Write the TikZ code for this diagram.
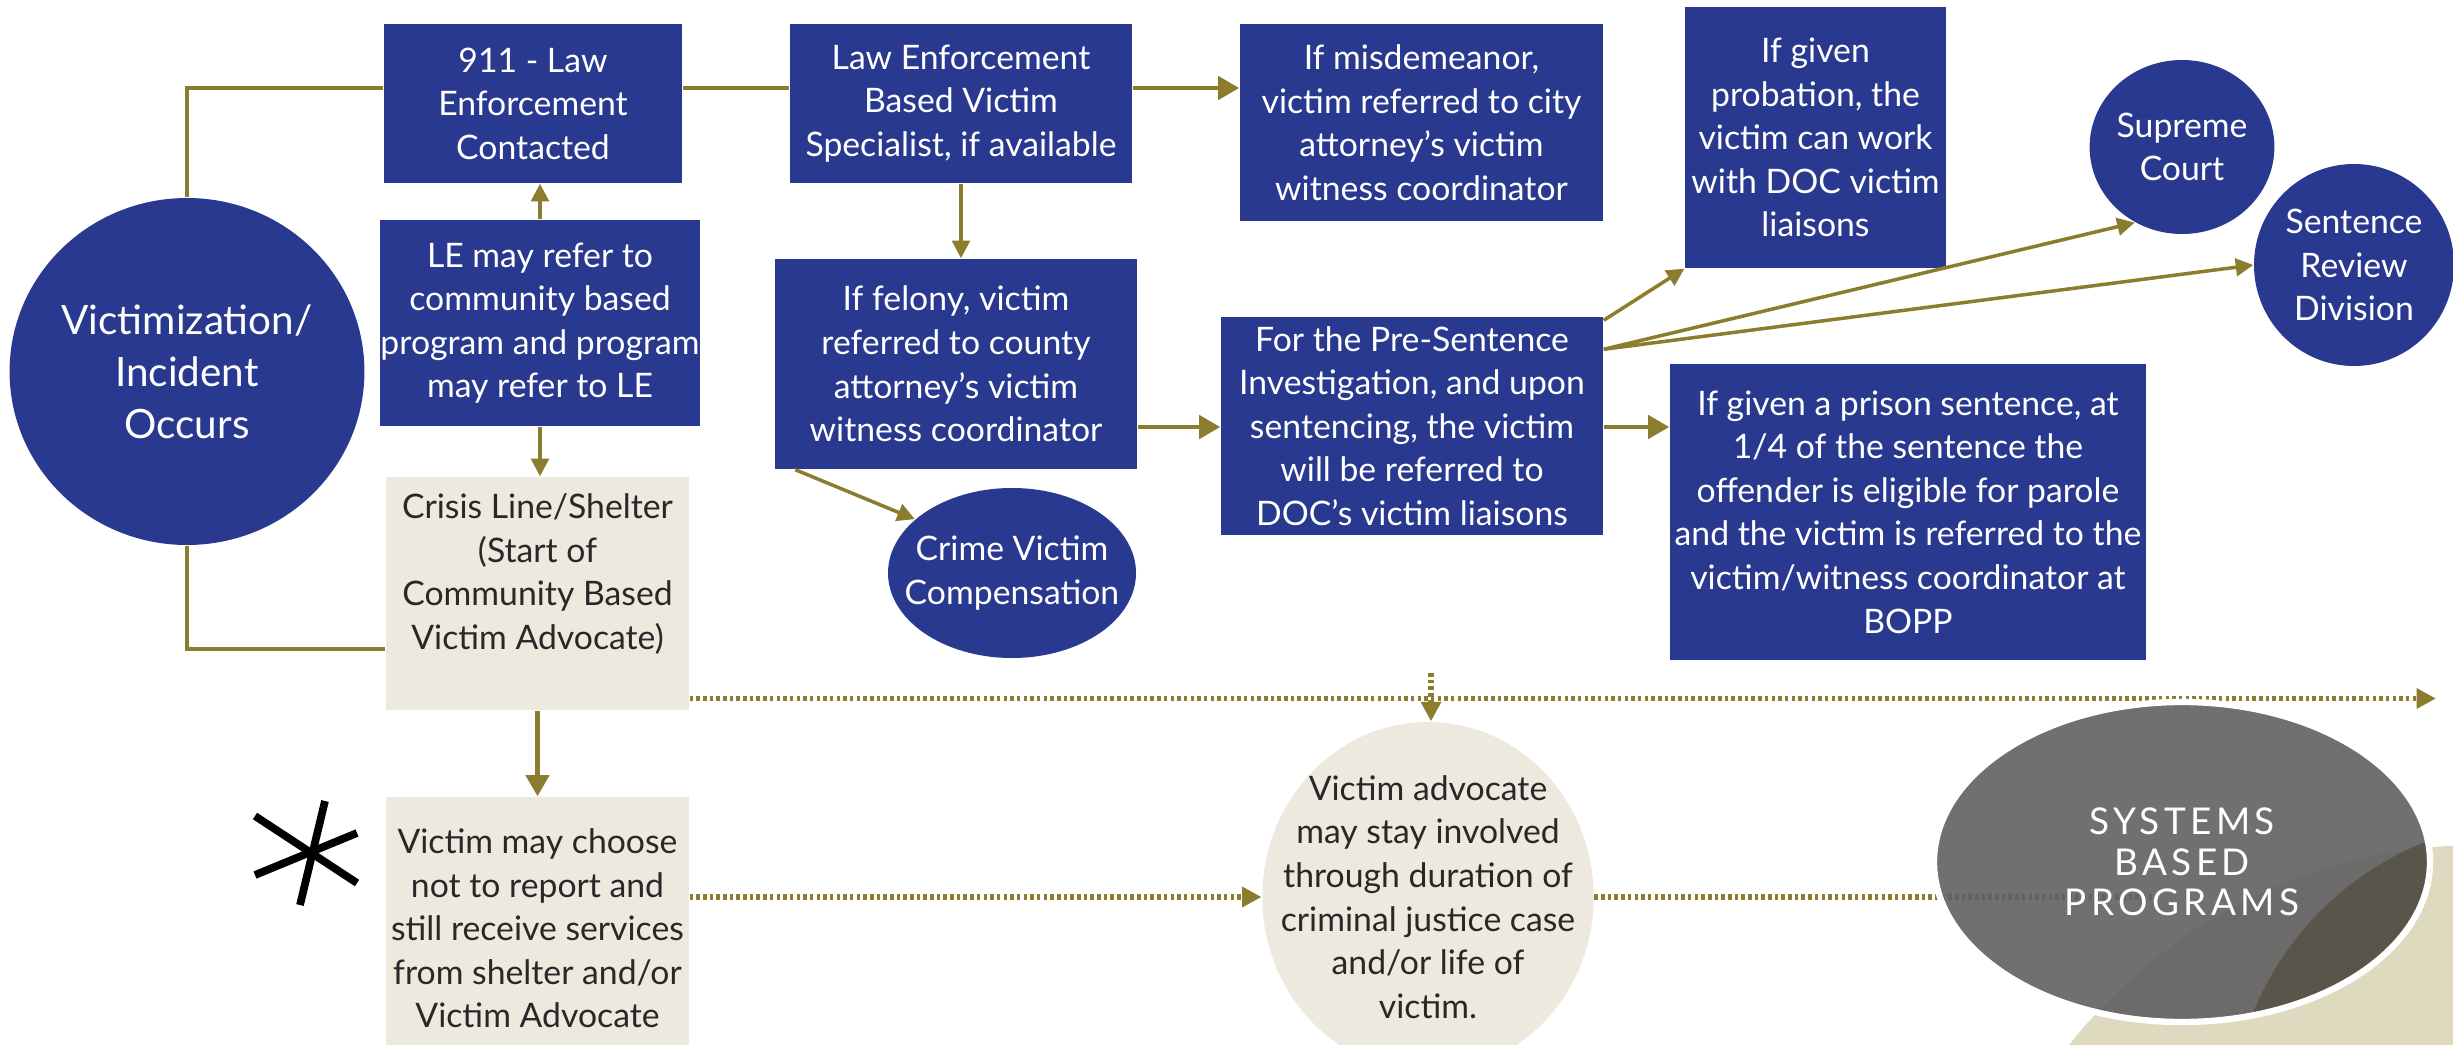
\documentclass[tikz,border=0pt]{standalone}
\usepackage{fontspec}
\setmainfont{Lato}
\newfontfamily\capsfont{Lato}[LetterSpace=12]
\usetikzlibrary{arrows.meta,calc,shapes.geometric}

\definecolor{navy}{RGB}{41,57,143}
\definecolor{gold}{RGB}{140,124,46}
\definecolor{sand}{RGB}{237,233,222}
\definecolor{ink}{RGB}{40,40,40}
\definecolor{slate}{RGB}{96,96,96}
\definecolor{olive}{RGB}{86,84,72}
\definecolor{wheat}{RGB}{222,218,192}

\newcommand{\boxfont}{\fontsize{9.6}{12.4}\selectfont}
\tikzset{
	bluebox/.style={rectangle, fill=navy, text=white, align=center, inner sep=0pt, font=\boxfont},
	sandbox/.style={rectangle, fill=sand, text=ink, align=center, inner sep=0pt, font=\boxfont},
	bluedot/.style={ellipse, fill=navy, text=white, align=center, inner sep=0pt, font=\boxfont},
	link/.style={draw=gold, line width=1.4pt},
	linkto/.style={link, -{Triangle[length=6pt,width=6.5pt]}},
	thinto/.style={draw=gold, line width=1pt, -{Triangle[length=5pt,width=5pt]}},
	dots/.style={draw=gold, line width=1.5pt, dash pattern=on 1pt off 0.9pt},
	dotsto/.style={dots, -{Triangle[length=5.5pt,width=5.5pt]}},
}

\begin{document}
\begin{tikzpicture}
		%%%%% START %%%%%
		\useasboundingbox (0,0) rectangle (24.53,-10.45);
		\clip (0,0) rectangle (24.53,-10.45);
		
		\fill[wheat] (24.80,-13.67) circle (5.22);
		
		\coordinate (toprow) at (0,-0.88);
		\coordinate (midrow) at (0,-4.27);
		\coordinate (lowrow) at (0,-6.49);
		\coordinate (dotrow) at (0,-6.985);
		
		\node[bluedot, minimum width=3.50cm, minimum height=3.47cm, font=\fontsize{11.5}{14.8}\selectfont] (victim) at (1.87,-3.715) {Victimization/\\Incident\\Occurs};
		
		\node[bluebox, minimum width=2.98cm, minimum height=1.59cm] (call) at (5.33,-1.035) {911 - Law\\Enforcement\\Contacted};
		\node[bluebox, minimum width=3.42cm, minimum height=1.59cm] (law) at (9.61,-1.035) {Law Enforcement\\Based Victim\\Specialist, if available};
		\node[bluebox, minimum width=3.63cm, minimum height=1.97cm] (misd) at (14.215,-1.225) {If misdemeanor,\\victim referred to city\\attorney's victim\\witness coordinator};
		\node[bluebox, minimum width=2.61cm, minimum height=2.61cm] (prob) at (18.155,-1.375) {If given\\probation, the\\victim can work\\with DOC victim\\liaisons};
		\node[bluedot, minimum width=1.76cm, minimum height=1.74cm] (supreme) at (21.82,-1.47) {Supreme\\Court};
		\node[bluedot, minimum width=2.00cm, minimum height=2.02cm] (review) at (23.54,-2.65) {Sentence\\Review\\Division};
		
		\node[bluebox, minimum width=2.84cm, minimum height=2.06cm] (le) at (5.40,-3.23) {LE may refer to\\community based\\program and program\\may refer to LE};
		\node[bluebox, minimum width=3.62cm, minimum height=2.10cm] (felony) at (9.56,-3.64) {If felony, victim\\referred to county\\attorney's victim\\witness coordinator};
		\node[bluedot, inner xsep=-0.2cm, minimum width=2.48cm, minimum height=1.70cm] (crime) at (10.12,-5.73) {Crime Victim\\Compensation};
		\node[bluebox, minimum width=3.82cm, minimum height=2.18cm] (presentence) at (14.12,-4.26) {For the Pre-Sentence\\Investigation, and upon\\sentencing, the victim\\will be referred to\\DOC's victim liaisons};
		\node[bluebox, minimum width=4.76cm, minimum height=2.96cm] (prison) at (19.08,-5.12) {If given a prison sentence, at\\1/4 of the sentence the\\offender is eligible for parole\\and the victim is referred to the\\victim/witness coordinator at\\BOPP};
		
		\node[sandbox, minimum width=3.03cm, minimum height=2.33cm] (crisis) at (5.375,-5.935) {Crisis Line/Shelter\\(Start of\\Community Based\\Victim Advocate)\\\mbox{}};
		\node[sandbox, minimum width=3.03cm, minimum height=2.63cm] (choose) at (5.375,-9.285) {Victim may choose\\not to report and\\still receive services\\from shelter and/or\\Victim Advocate};
		\node[sandbox, ellipse, inner xsep=-0.3cm, inner ysep=-0.08cm, minimum width=3.30cm, minimum height=3.50cm] (advocate) at (14.28,-8.97) {Victim advocate\\may stay involved\\through duration of\\criminal justice case\\and/or life of\\victim.};
		
		% solid flow
		\draw[link] (victim.north) |- (toprow -| call.west);
		\draw[link] (toprow -| call.east) -- (toprow -| law.west);
		\draw[linkto] (toprow -| law.east) -- (toprow -| misd.west);
		\draw[link] (victim.south) |- (lowrow -| crisis.west);
		\draw[thinto] (le.north) -- (le.north |- call.south);
		\draw[thinto] (le.south) -- (le.south |- crisis.north);
		\draw[linkto] (crisis.south) -- (choose.north);
		\draw[thinto] (law.south) -- (law.south |- felony.north);
		\draw[linkto] (midrow -| felony.east) -- (midrow -| presentence.west);
		\draw[thinto] ([xshift=0.21cm]felony.south west) -- (crime.151);
		\draw[linkto] (midrow -| presentence.east) -- (midrow -| prison.west);
		
		\coordinate (fork) at ($(presentence.north east)+(0,-0.33)$);
		\draw[thinto] ([yshift=-0.04cm]presentence.north east) -- (prob.south west);
		\draw[thinto] (fork) -- (supreme.238);
		\draw[thinto] (fork) -- (review.west);
		
		% dotted timeline
		\coordinate (dotend) at (24.36,-6.985);
		\coordinate (droptop) at (14.31,-6.73);
		\coordinate (dotstop) at (21.57,-8.97);
		\draw[dotsto] (dotrow -| crisis.east) -- (dotend);
		\draw[dotsto] (droptop) -- (droptop |- advocate.north);
		\draw[dotsto] (advocate.west -| choose.east) -- (advocate.west);
		\draw[dots] (advocate.east) -- (dotstop);
		
		\node[ellipse, fill=slate, fill opacity=0.9, text opacity=1, draw=white, line width=1.8pt, minimum width=4.96cm, minimum height=3.20cm, text=white, align=center, font=\capsfont\fontsize{10.5}{11.6}\selectfont,
			path picture={\fill[olive] ($(path picture bounding box.center)+(3.58,-2.68)$) circle (3.10);}] (systems) at (21.82,-8.62) {SYSTEMS\\BASED\\PROGRAMS};
		
		% asterisk
		\draw[line width=2.2pt] (3.25,-8.01) -- (3.00,-9.05);
		\draw[line width=2.2pt] (2.55,-8.16) -- (3.57,-8.83);
		\draw[line width=2.2pt] (2.55,-8.75) -- (3.57,-8.33);
		%%%%% END %%%%%
\end{tikzpicture}
\end{document}
